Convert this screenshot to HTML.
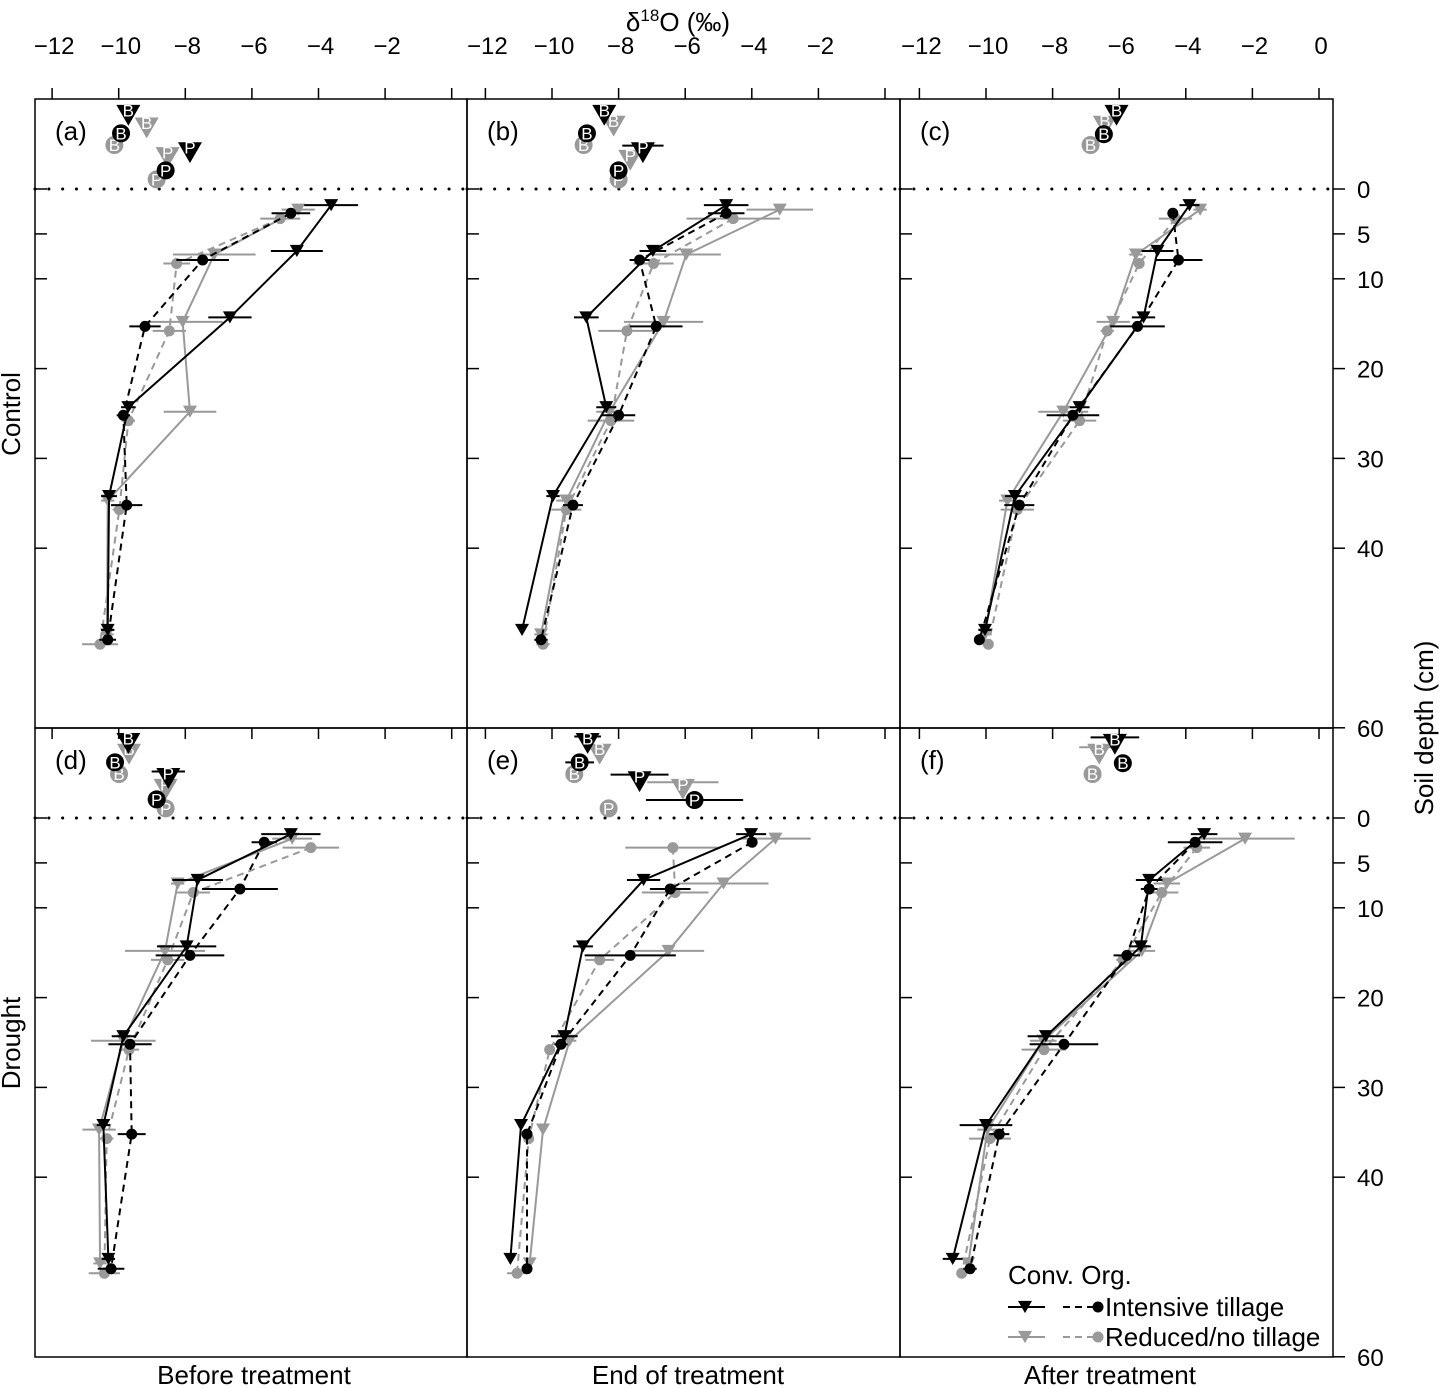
<!DOCTYPE html>
<html><head><meta charset="utf-8"><style>
html,body{margin:0;padding:0;background:#fff;}
svg{display:block;font-family:"Liberation Sans",Arial,sans-serif;}
</style></head><body>
<svg id="chart" width="1442" height="1388" viewBox="0 0 1442 1388" xmlns="http://www.w3.org/2000/svg">
<rect x="0" y="0" width="1442" height="1388" fill="#fff"/>
<text x="678" y="31" font-size="26" text-anchor="middle">δ<tspan dy="-10" font-size="17">18</tspan><tspan dy="10">O (‰)</tspan></text>
<text x="254" y="1384" font-size="26" text-anchor="middle">Before treatment</text>
<text x="688" y="1384" font-size="26" text-anchor="middle">End of treatment</text>
<text x="1110" y="1384" font-size="26" text-anchor="middle">After treatment</text>
<text transform="translate(20,414) rotate(-90)" font-size="26" text-anchor="middle">Control</text>
<text transform="translate(20,1043) rotate(-90)" font-size="26" text-anchor="middle">Drought</text>
<text transform="translate(1433,728) rotate(-90)" font-size="26" text-anchor="middle">Soil depth (cm)</text>
<g id="plots"></g>
</svg>
<script>
// shared depths for each series (cm)
const depthCI = [1.8, 6.9, 14.3, 24.3, 34.2, 49.1];
const depthCR = [2.3, 7.3, 14.8, 24.8, 34.7, 49.6];
const depthOI = [2.7, 7.9, 15.3, 25.2, 35.2, 50.2];
const depthOR = [3.3, 8.3, 15.8, 25.8, 35.7, 50.7];
const xTicks = [-12, -10, -8, -6, -4, -2, 0];
const xTickLabelsA = ["−12","−10","−8","−6","−4","−2",""];
const xTickLabelsC = ["−12","−10","−8","−6","−4","−2","0"];
const yTicks = [0, 5, 10, 20, 30, 40];
const panelLabels = ["(a)","(b)","(c)","(d)","(e)","(f)"];
// soil profile values (permil) per panel
const ciVals = [[-3.62,-4.65,-6.66,-9.71,-10.29,-10.33],[-4.77,-6.97,-8.97,-8.37,-9.97,-10.9],[-3.89,-4.85,-5.27,-7.19,-9.13,-10.03],
  [-4.83,-7.63,-7.96,-9.86,-10.46,-10.31],[-4.02,-7.25,-9.07,-9.63,-10.93,-11.25],[-3.45,-5.1,-5.35,-8.2,-10.0,-11.0]];
const ciErr = [[0.81,0.78,0.65,0.22,0.24,0.2],[0.67,0.4,0.37,0.3,0.2,0],[0.3,0.48,0.35,0.3,0.3,0.2],
  [0.89,0.76,0.89,0.35,0.2,0.2],[0.45,0.5,0.3,0.4,0,0],[0.4,0.4,0.3,0.55,0.79,0.3]];
const oiVals = [[-4.83,-7.48,-9.21,-9.86,-9.76,-10.33],[-4.77,-7.37,-6.87,-8.0,-9.37,-10.33],[-4.39,-4.22,-5.45,-7.39,-9.0,-10.2],
  [-5.63,-6.36,-7.86,-9.66,-9.61,-10.23],[-3.99,-6.45,-7.65,-9.73,-10.75,-10.75],[-3.72,-5.1,-5.77,-7.66,-9.6,-10.48]];
const oiErr = [[0.58,0.79,0.47,0.2,0.47,0.25],[0.55,0.3,0.79,0.5,0.3,0.2],[0.1,0.72,0.82,0.79,0.45,0.1],
  [0.38,1.14,1.03,0.65,0.42,0.4],[0.15,0.61,1.37,0.2,0,0],[0.82,0.25,0.4,1.03,0.3,0.2]];
const crVals = [[-4.61,-7.13,-8.08,-7.86,-10.33,-10.35],[-3.16,-5.97,-6.65,-8.27,-9.57,-10.33],[-3.57,-5.5,-6.18,-7.68,-9.36,-10.03],
  [-4.79,-8.23,-8.61,-9.86,-10.59,-10.56],[-3.29,-4.85,-6.5,-9.47,-10.27,-10.67],[-2.22,-4.57,-5.32,-8.28,-9.96,-10.53]];
const crErr = [[0.5,1.24,1.2,0.79,0.2,0.2],[1.0,1.04,1.19,0.4,0.3,0.2],[0.2,0.2,0.5,0.75,0.25,0.2],
  [0.6,0.2,1.2,0.97,0.5,0.2],[1.06,1.35,1.07,0.2,0,0],[1.49,0.4,0.4,0.4,0.3,0]];
const orVals = [[-5.15,-8.26,-8.48,-9.71,-9.98,-10.56],[-4.56,-6.95,-7.75,-8.23,-9.57,-10.27],[-4.31,-5.4,-6.36,-7.19,-9.06,-9.93],
  [-4.23,-7.76,-8.53,-9.69,-10.36,-10.43],[-6.37,-6.3,-8.57,-10.07,-10.7,-11.05],[-3.67,-4.72,-5.89,-8.26,-9.88,-10.73]];
const orErr = [[0.6,0.4,0.5,0.2,0.2,0.54],[1.4,0.6,0.86,0.7,0.45,0.2],[0.5,0.1,0.2,0.5,0.5,0.1],
  [0.85,0.5,0.5,0.3,0.2,0.47],[1.43,1.0,0.43,0,0,0.3],[0.4,0.5,0.2,0.67,0.63,0]];
// bulk (B) and plant (P) water markers: [value, depth position, error]
const bVals = [[[-9.71,-8.2,0],[-9.93,-6.2,0],[-9.16,-6.8,0],[-10.13,-4.9,0]],
  [[-8.43,-8.2,0],[-8.95,-6.2,0],[-8.15,-7.0,0.2],[-9.05,-4.9,0]],
  [[-6.08,-8.2,0],[-6.46,-6.1,0],[-6.43,-7.0,0],[-6.86,-4.9,0]],
  [[-9.71,-8.3,0],[-10.11,-6.2,0],[-9.69,-7.1,0],[-9.99,-4.9,0]],
  [[-8.93,-8.3,0.4],[-9.17,-6.2,0.43],[-8.57,-7.1,0.3],[-9.33,-4.9,0]],
  [[-6.13,-8.2,0.73],[-5.89,-6.1,0],[-6.6,-7.1,0.6],[-6.8,-4.9,0]]];
const pVals = [[[-7.86,-4.05,0],[-8.59,-2.07,0],[-8.53,-3.5,0.3],[-8.86,-1.07,0]],
  [[-7.27,-4.05,0.62],[-8.0,-2.07,0],[-7.65,-3.2,0],[-8.0,-1.07,0]],
  null,
  [[-8.51,-4.4,0.5],[-8.86,-2.07,0],[-8.59,-3.2,0.3],[-8.59,-1.07,0]],
  [[-7.37,-4.05,0.87],[-5.72,-2.0,1.46],[-6.07,-3.2,1.07],[-8.3,-1.07,0]],
  null];

const NS = "http://www.w3.org/2000/svg";
const plots = document.getElementById("plots");
const rights = [467, 900, 1333];
const lefts = [35, 467, 900];
const zeroX = [451.7, 885, 1319];
const SCALE = 33.3;
const tops = [99, 728];
const zeroY = [189, 818];
const PXCM = 8.98;
const BLACK = "#000", GREY = "#999";

function mk(tag, attrs, parent) {
  const e = document.createElementNS(NS, tag);
  for (const k in attrs) e.setAttribute(k, attrs[k]);
  (parent || plots).appendChild(e);
  return e;
}
function xS(col, v) { return zeroX[col] + v * SCALE; }
function yS(row, d) { return zeroY[row] + d * PXCM; }
function tri(g, cx, cy, s, fill) {
  const h = s * 0.87;
  return mk("polygon", {points: (cx - s/2) + "," + (cy - h/2) + " " + (cx + s/2) + "," + (cy - h/2) + " " + cx + "," + (cy + h/2), fill: fill}, g);
}

for (let p = 0; p < 6; p++) {
  const col = p % 3, row = Math.floor(p / 3);
  const L = lefts[col], R = rights[col], T = tops[row], B = T + 629;
  const g = mk("g", {});
  
  
  const frame = mk("rect", {x: L, y: T, width: R - L, height: B - T, fill: "none", stroke: "#000", "stroke-width": 1.5}, g);
  
  
  const dl = mk("line", {x1: L, x2: R, y1: zeroY[row], y2: zeroY[row], stroke: "#000", "stroke-width": 3, "stroke-dasharray": "0.1,13.7", "stroke-linecap": "round"}, g);
  
  
  yTicks.forEach(t => {
    const tk = mk("line", {x1: L, x2: L + 12, y1: yS(row, t), y2: yS(row, t), stroke: "#000", "stroke-width": 1.5}, g);
    
    
  });
  if (col === 2) {
    yTicks.concat([60]).forEach(t => {
      const y = yS(row, t);
      const tk = mk("line", {x1: R, x2: R + 12, y1: y, y2: y, stroke: "#000", "stroke-width": 1.5}, g);
      
      
      const lb = mk("text", {x: R + 24, y: y + 9, "font-size": 24}, g);
      lb.textContent = String(t);
      
      
    });
  }
  if (row === 0) {
    const labs = col === 2 ? xTickLabelsC : xTickLabelsA;
    xTicks.forEach((t, i) => {
      const x = xS(col, t);
      const tk = mk("line", {x1: x, x2: x, y1: T, y2: T - 11, stroke: "#000", "stroke-width": 1.5}, g);
      
      
      if (labs[i]) {
        const lb = mk("text", {x: x + 2, y: 54, "font-size": 24, "text-anchor": "middle"}, g);
        lb.textContent = labs[i];
        
        
      }
    });
  } else {
    xTicks.forEach(t => {
      const x = xS(col, t);
      const tk = mk("line", {x1: x, x2: x, y1: T, y2: T + 11, stroke: "#000", "stroke-width": 1.5}, g);
      
      
    });
  }
  const pl = mk("text", {x: L + 20, y: T + 41, "font-size": 26}, g);
  pl.textContent = panelLabels[p];
  
  

  const series = [
    {name: "org-reduced", vals: orVals[p], err: orErr[p], dep: depthOR, color: GREY, dash: "7,5", shape: "c"},
    {name: "conv-reduced", vals: crVals[p], err: crErr[p], dep: depthCR, color: GREY, dash: null, shape: "t"},
    {name: "org-intensive", vals: oiVals[p], err: oiErr[p], dep: depthOI, color: BLACK, dash: "7,5", shape: "c"},
    {name: "conv-intensive", vals: ciVals[p], err: ciErr[p], dep: depthCI, color: BLACK, dash: null, shape: "t"}
  ];
  series.forEach(s => {
    const sg = mk("g", {}, g);
    
    
    const pts = s.vals.map((v, i) => xS(col, v) + "," + yS(row, s.dep[i])).join(" ");
    const line = mk("polyline", {points: pts, fill: "none", stroke: s.color, "stroke-width": 2}, sg);
    if (s.dash) line.setAttribute("stroke-dasharray", s.dash);
    
    
    s.vals.forEach((v, i) => {
      const x = xS(col, v), y = yS(row, s.dep[i]);
      if (s.err[i] > 0) {
        const eb = mk("line", {x1: xS(col, v - s.err[i]), x2: xS(col, v + s.err[i]), y1: y, y2: y, stroke: s.color, "stroke-width": 2}, sg);
        
        
      }
      let m;
      if (s.shape === "c") m = mk("circle", {cx: x, cy: y, r: 5.5, fill: s.color}, sg);
      else m = tri(sg, x, y, 14, s.color);
      
      
    });
  });

  const styles = [{c: BLACK, t: "t"}, {c: BLACK, t: "c"}, {c: GREY, t: "t"}, {c: GREY, t: "c"}];
  const drawOrder = [2, 3, 0, 1];
  [[bVals[p], "B"], [pVals[p], "P"]].forEach(([arr, letter]) => {
    if (!arr) return;
    drawOrder.forEach(k => {
      const d = arr[k], st = styles[k];
      const x = xS(col, d[0]), y = yS(row, d[1]);
      if (d[2] > 0) {
        const eb = mk("line", {x1: xS(col, d[0] - d[2]), x2: xS(col, d[0] + d[2]), y1: y - (st.t === "t" ? 7 : 0), y2: y - (st.t === "t" ? 7 : 0), stroke: st.c, "stroke-width": 2}, g);
        
        
      }
      let m;
      if (st.t === "c") m = mk("circle", {cx: x, cy: y, r: 9, fill: st.c}, g);
      else m = tri(g, x, y, 24, st.c);
      
      
      const tx = mk("text", {x: x, y: y + (st.t === "t" ? 1 : 6), "font-size": 17, "text-anchor": "middle", fill: "#fff"}, g);
      tx.textContent = letter;
      
      
    });
  });
}

const lg = mk("g", {});


const lt = mk("text", {x: 1008, y: 1284, "font-size": 26}, lg);
lt.textContent = "Conv. Org.";


[[BLACK, 1307, "Intensive tillage"], [GREY, 1337, "Reduced/no tillage"]].forEach(([c, y, lab]) => {
  const e = mk("g", {}, lg);
  
  
  mk("line", {x1: 1008, x2: 1045, y1: y, y2: y, stroke: c, "stroke-width": 2}, e);
  tri(e, 1025, y, 14, c);
  mk("line", {x1: 1063, x2: 1100, y1: y, y2: y, stroke: c, "stroke-width": 2, "stroke-dasharray": "7,5"}, e);
  mk("circle", {cx: 1098, cy: y, r: 5.5, fill: c}, e);
  const t = mk("text", {x: 1105, y: y + 9, "font-size": 26}, e);
  t.textContent = lab;
  
  
});
</script>
</body></html>
